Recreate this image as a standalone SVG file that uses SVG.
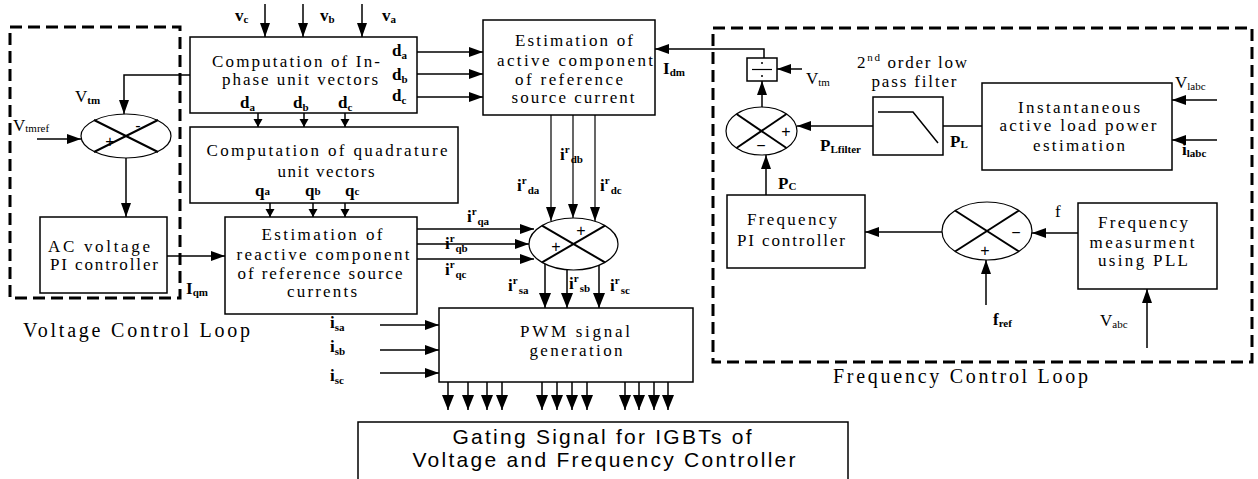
<svg xmlns="http://www.w3.org/2000/svg" width="1258" height="479" viewBox="0 0 1258 479">
<style>
.box{fill:#fff;stroke:#000;stroke-width:1.5}
.t{font-family:'Liberation Serif','Times New Roman',serif;font-size:17px;text-anchor:middle;fill:#000}
.lb{font-family:'Liberation Serif','Times New Roman',serif;font-size:17px;fill:#000}
.bd{font-weight:bold}
.sub{font-size:11px}
.w{stroke:#000;stroke-width:1.5;fill:none}
.thin{stroke:#000;stroke-width:1.2;fill:none}
.dash{fill:none;stroke:#000;stroke-width:3;stroke-dasharray:12 6}
.sum{fill:#fff;stroke:#000;stroke-width:1.2}
.x{stroke:#000;stroke-width:2}
.sg{font-family:'Liberation Sans',Arial,sans-serif;font-size:16px;text-anchor:middle}
.cap{font-family:'Liberation Serif','Times New Roman',serif;font-size:20px;fill:#000}
.gs{font-family:'Liberation Sans',Arial,sans-serif;font-size:21px;text-anchor:middle}
</style>
<defs>
<marker id="a" markerUnits="userSpaceOnUse" markerWidth="14" markerHeight="10" refX="14" refY="5" orient="auto"><path d="M0,0 L14,5 L0,10 z" fill="#000"/></marker>
<marker id="s" markerUnits="userSpaceOnUse" markerWidth="8" markerHeight="10" refX="8" refY="5" orient="auto"><path d="M0,0.5 L8,5 L0,9.5 z" fill="#000"/></marker>
<marker id="b" markerUnits="userSpaceOnUse" markerWidth="15" markerHeight="12" refX="15" refY="6" orient="auto"><path d="M0,0 L15,6 L0,12 z" fill="#000"/></marker>
</defs>
<rect width="1258" height="479" fill="#fff"/>

<g id="voltage-loop">
<rect class="dash" x="10" y="27" width="170" height="271"/>
<text class="cap" x="23" y="337" textLength="227" lengthAdjust="spacing">Voltage Control Loop</text>
</g>
<g id="frequency-loop">
<rect class="dash" x="713" y="28" width="539" height="334"/>
<text class="cap" x="833" y="383" textLength="255" lengthAdjust="spacing">Frequency Control Loop</text>
</g>

<g id="connectors">
<polyline class="w" points="190,75 124,75 124,114" marker-end="url(#a)"/>
<line class="w" x1="37" y1="139" x2="81" y2="139" marker-end="url(#a)"/>
<line class="w" x1="126" y1="158" x2="126" y2="217" marker-end="url(#a)"/>
<line class="w" x1="167" y1="256" x2="225" y2="256" marker-end="url(#a)"/>
<line class="w" x1="265" y1="4" x2="265" y2="37" marker-end="url(#a)"/>
<line class="w" x1="303" y1="4" x2="303" y2="37" marker-end="url(#a)"/>
<line class="w" x1="362" y1="4" x2="362" y2="37" marker-end="url(#a)"/>
<line class="w" x1="417" y1="52" x2="483" y2="52" marker-end="url(#a)"/>
<line class="w" x1="417" y1="74" x2="483" y2="74" marker-end="url(#a)"/>
<line class="w" x1="417" y1="97" x2="483" y2="97" marker-end="url(#a)"/>
<line class="w" x1="258" y1="113" x2="258" y2="127" marker-end="url(#s)"/>
<line class="w" x1="304" y1="113" x2="304" y2="127" marker-end="url(#s)"/>
<line class="w" x1="345" y1="113" x2="345" y2="127" marker-end="url(#s)"/>
<line class="w" x1="270" y1="203" x2="270" y2="217" marker-end="url(#s)"/>
<line class="w" x1="313" y1="203" x2="313" y2="217" marker-end="url(#s)"/>
<line class="w" x1="345" y1="203" x2="345" y2="217" marker-end="url(#s)"/>
<line class="w" x1="417" y1="229" x2="534" y2="229" marker-end="url(#a)"/>
<line class="w" x1="417" y1="244" x2="529" y2="244" marker-end="url(#a)"/>
<line class="w" x1="417" y1="259" x2="534" y2="259" marker-end="url(#a)"/>
<line class="thin" x1="551" y1="115" x2="551" y2="221" marker-end="url(#a)"/>
<line class="thin" x1="573" y1="115" x2="573" y2="218" marker-end="url(#a)"/>
<line class="thin" x1="595" y1="115" x2="595" y2="221" marker-end="url(#a)"/>
<line class="w" x1="545" y1="264" x2="545" y2="308" marker-end="url(#b)"/>
<line class="w" x1="567" y1="269" x2="567" y2="308" marker-end="url(#b)"/>
<line class="w" x1="599" y1="265" x2="599" y2="308" marker-end="url(#b)"/>
<line class="w" x1="380" y1="325" x2="439" y2="325" marker-end="url(#a)"/>
<line class="w" x1="380" y1="350" x2="439" y2="350" marker-end="url(#a)"/>
<line class="w" x1="380" y1="373" x2="439" y2="373" marker-end="url(#a)"/>
<line class="w" x1="448" y1="382" x2="448" y2="410" marker-end="url(#b)"/>
<line class="w" x1="468" y1="382" x2="468" y2="410" marker-end="url(#b)"/>
<line class="w" x1="487" y1="382" x2="487" y2="410" marker-end="url(#b)"/>
<line class="w" x1="502" y1="382" x2="502" y2="410" marker-end="url(#b)"/>
<line class="w" x1="542" y1="382" x2="542" y2="410" marker-end="url(#b)"/>
<line class="w" x1="557" y1="382" x2="557" y2="410" marker-end="url(#b)"/>
<line class="w" x1="572" y1="382" x2="572" y2="410" marker-end="url(#b)"/>
<line class="w" x1="587" y1="382" x2="587" y2="410" marker-end="url(#b)"/>
<line class="w" x1="625" y1="382" x2="625" y2="410" marker-end="url(#b)"/>
<line class="w" x1="639" y1="382" x2="639" y2="410" marker-end="url(#b)"/>
<line class="w" x1="654" y1="382" x2="654" y2="410" marker-end="url(#b)"/>
<line class="w" x1="668" y1="382" x2="668" y2="410" marker-end="url(#b)"/>
<polyline class="w" points="764,58 764,49 655,49" marker-end="url(#a)"/>
<line class="w" x1="802" y1="69" x2="777" y2="69" marker-end="url(#a)"/>
<line class="w" x1="762" y1="107" x2="762" y2="81" marker-end="url(#a)"/>
<line class="w" x1="873" y1="126" x2="797" y2="126" marker-end="url(#a)"/>
<line class="w" x1="982" y1="126" x2="943" y2="126"/>
<line class="w" x1="1217" y1="100" x2="1172" y2="100" marker-end="url(#a)"/>
<line class="w" x1="1217" y1="140" x2="1172" y2="140" marker-end="url(#a)"/>
<line class="w" x1="766" y1="195" x2="766" y2="155" marker-end="url(#a)"/>
<line class="w" x1="942" y1="232" x2="865" y2="232" marker-end="url(#a)"/>
<line class="w" x1="1078" y1="233" x2="1032" y2="233" marker-end="url(#a)"/>
<line class="w" x1="986" y1="305" x2="986" y2="260" marker-end="url(#a)"/>
<line class="w" x1="1147" y1="348" x2="1147" y2="289" marker-end="url(#a)"/>
</g>

<g id="sum-vtm">
<ellipse class="sum" cx="126" cy="136" rx="45" ry="22"/>
<line class="x" x1="94" y1="120" x2="158" y2="152"/>
<line class="x" x1="94" y1="152" x2="158" y2="120"/>
<text class="sg" x="138" y="131">-</text>
<text class="sg" x="110" y="147">+</text>
</g>

<g id="ac-pi">
<rect class="box" x="40" y="217" width="127" height="76"/>
<text class="t" x="99" y="252" textLength="102" lengthAdjust="spacing">AC voltage</text>
<text class="t" x="104" y="270" textLength="108" lengthAdjust="spacing">PI controller</text>
</g>

<g id="inphase">
<rect class="box" x="190" y="37" width="227" height="76"/>
<text class="t" x="296" y="67" textLength="168" lengthAdjust="spacing">Computation of In-</text>
<text class="t" x="300" y="85" textLength="156" lengthAdjust="spacing">phase unit vectors</text>
</g>

<g id="quadrature">
<rect class="box" x="190" y="127" width="268" height="76"/>
<text class="t" x="327" y="156" textLength="241" lengthAdjust="spacing">Computation of quadrature</text>
<text class="t" x="326" y="177" textLength="97" lengthAdjust="spacing">unit vectors</text>
</g>

<g id="reactive">
<rect class="box" x="225" y="217" width="192" height="97"/>
<text class="t" x="322" y="240" textLength="121" lengthAdjust="spacing">Estimation of</text>
<text class="t" x="323" y="260" textLength="173" lengthAdjust="spacing">reactive component</text>
<text class="t" x="320" y="279" textLength="165" lengthAdjust="spacing">of reference source</text>
<text class="t" x="322" y="297" textLength="70" lengthAdjust="spacing">currents</text>
</g>

<g id="active">
<rect class="box" x="483" y="20" width="172" height="95"/>
<text class="t" x="574" y="46" textLength="118" lengthAdjust="spacing">Estimation of</text>
<text class="t" x="575" y="66" textLength="156" lengthAdjust="spacing">active component</text>
<text class="t" x="569" y="85" textLength="108" lengthAdjust="spacing">of reference</text>
<text class="t" x="573" y="103" textLength="123" lengthAdjust="spacing">source current</text>
</g>

<g id="sum-ref">
<ellipse class="sum" cx="573.5" cy="244" rx="44.5" ry="26"/>
<line class="x" x1="542" y1="225.6" x2="605" y2="262.4"/>
<line class="x" x1="542" y1="262.4" x2="605" y2="225.6"/>
<text class="sg" x="581" y="236">+</text>
<text class="sg" x="556" y="252">+</text>
</g>

<g id="pwm">
<rect class="box" x="439" y="308" width="254" height="74"/>
<text class="t" x="575" y="337" textLength="110" lengthAdjust="spacing">PWM signal</text>
<text class="t" x="576" y="356" textLength="93" lengthAdjust="spacing">generation</text>
</g>

<g id="gating">
<rect class="box" x="358" y="422" width="490" height="70"/>
<text class="gs" x="602" y="444" textLength="299" lengthAdjust="spacing">Gating Signal for IGBTs of</text>
<text class="gs" x="604" y="467" textLength="383" lengthAdjust="spacing">Voltage and Frequency Controller</text>
</g>

<g id="divider">
<rect class="box" x="747" y="58" width="30" height="23"/>
<line class="thin" x1="752" y1="69.5" x2="772" y2="69.5"/>
<circle cx="762" cy="63" r="1" fill="#000"/>
<circle cx="762" cy="76" r="1" fill="#000"/>
</g>

<g id="sum-p">
<ellipse class="sum" cx="761.5" cy="131" rx="35.5" ry="24"/>
<line class="x" x1="736.5" y1="114" x2="786.5" y2="148"/>
<line class="x" x1="736.5" y1="148" x2="786.5" y2="114"/>
<text class="sg" x="786" y="137">+</text>
<text class="sg" x="761" y="151">−</text>
</g>

<g id="lpf">
<rect class="box" x="873" y="97" width="70" height="58"/>
<polyline class="w" points="878,112 913,112 938,143"/>
<text class="lb" x="912" y="68" text-anchor="middle" textLength="110" lengthAdjust="spacing">2<tspan class="sub" dy="-7">nd</tspan><tspan dy="7"> order low</tspan></text>
<text class="t" x="914" y="87" textLength="85" lengthAdjust="spacing">pass filter</text>
</g>

<g id="inst-power">
<rect class="box" x="982" y="83" width="190" height="87"/>
<text class="t" x="1079" y="113" textLength="122" lengthAdjust="spacing">Instantaneous</text>
<text class="t" x="1078" y="131" textLength="157" lengthAdjust="spacing">active load power</text>
<text class="t" x="1079" y="151" textLength="92" lengthAdjust="spacing">estimation</text>
</g>

<g id="freq-pi">
<rect class="box" x="727" y="195" width="138" height="73"/>
<text class="t" x="792" y="225" textLength="90" lengthAdjust="spacing">Frequency</text>
<text class="t" x="791" y="246" textLength="108" lengthAdjust="spacing">PI controller</text>
</g>

<g id="sum-f">
<ellipse class="sum" cx="987" cy="231" rx="45" ry="29"/>
<line class="x" x1="955" y1="210.5" x2="1019" y2="251.5"/>
<line class="x" x1="955" y1="251.5" x2="1019" y2="210.5"/>
<text class="sg" x="1016" y="238">−</text>
<text class="sg" x="985" y="256">+</text>
</g>

<g id="pll">
<rect class="box" x="1078" y="203" width="139" height="86"/>
<text class="t" x="1143" y="228" textLength="90" lengthAdjust="spacing">Frequency</text>
<text class="t" x="1142" y="248" textLength="105" lengthAdjust="spacing">measurment</text>
<text class="t" x="1143" y="266" textLength="90" lengthAdjust="spacing">using PLL</text>
</g>

<g id="labels">
<text class="lb bd" x="235" y="21">v<tspan class="sub" dy="2">c</tspan></text>
<text class="lb bd" x="320" y="21">v<tspan class="sub" dy="2">b</tspan></text>
<text class="lb bd" x="382" y="21">v<tspan class="sub" dy="2">a</tspan></text>
<text class="lb" x="75" y="102">V<tspan class="sub bd" dy="2" font-size="13">tm</tspan></text>
<text class="lb" x="13" y="131">V<tspan class="sub" dy="1">tmref</tspan></text>
<text class="lb bd" x="392" y="56">d<tspan class="sub" dy="3">a</tspan></text>
<text class="lb bd" x="392" y="80">d<tspan class="sub" dy="3">b</tspan></text>
<text class="lb bd" x="392" y="101">d<tspan class="sub" dy="3">c</tspan></text>
<text class="lb bd" x="240" y="108">d<tspan class="sub" dy="3">a</tspan></text>
<text class="lb bd" x="293" y="108">d<tspan class="sub" dy="3">b</tspan></text>
<text class="lb bd" x="338" y="108">d<tspan class="sub" dy="3">c</tspan></text>
<text class="lb bd" x="255" y="196">q<tspan class="sub" dy="-1">a</tspan></text>
<text class="lb bd" x="305" y="196">q<tspan class="sub" dy="-1">b</tspan></text>
<text class="lb bd" x="345" y="196">q<tspan class="sub" dy="-1">c</tspan></text>
<text class="lb bd" x="186" y="294">I<tspan class="sub" dy="2">qm</tspan></text>
<text class="lb bd" x="663" y="74">I<tspan class="sub" dy="2">dm</tspan></text>
<text class="lb bd" x="517" y="191">i<tspan class="sub" dy="-7">r</tspan><tspan class="sub" dx="1" dy="10">da</tspan></text>
<text class="lb bd" x="560" y="160">i<tspan class="sub" dy="-7">r</tspan><tspan class="sub" dx="1" dy="10">db</tspan></text>
<text class="lb bd" x="600" y="191">i<tspan class="sub" dy="-7">r</tspan><tspan class="sub" dx="1" dy="10">dc</tspan></text>
<text class="lb bd" x="467" y="222">i<tspan class="sub" dy="-7">r</tspan><tspan class="sub" dx="1" dy="10">qa</tspan></text>
<text class="lb bd" x="445" y="249">i<tspan class="sub" dy="-7">r</tspan><tspan class="sub" dx="1" dy="10">qb</tspan></text>
<text class="lb bd" x="445" y="275">i<tspan class="sub" dy="-7">r</tspan><tspan class="sub" dx="1" dy="10">qc</tspan></text>
<text class="lb bd" x="508" y="291">i<tspan class="sub" dy="-7">r</tspan><tspan class="sub" dx="1" dy="10">sa</tspan></text>
<text class="lb bd" x="569" y="289">i<tspan class="sub" dy="-7">r</tspan><tspan class="sub" dx="1" dy="10">sb</tspan></text>
<text class="lb bd" x="610" y="291">i<tspan class="sub" dy="-7">r</tspan><tspan class="sub" dx="1" dy="10">sc</tspan></text>
<text class="lb bd" x="330" y="328">i<tspan class="sub" dy="3">sa</tspan></text>
<text class="lb bd" x="330" y="352">i<tspan class="sub" dy="3">sb</tspan></text>
<text class="lb bd" x="330" y="381">i<tspan class="sub" dy="3">sc</tspan></text>
<text class="lb" x="806" y="84">V<tspan class="sub" dy="2">tm</tspan></text>
<text class="lb bd" x="820" y="151">P<tspan class="sub" dy="2">Lfilter</tspan></text>
<text class="lb bd" x="950" y="147">P<tspan class="sub" dy="1" font-size="13">L</tspan></text>
<text class="lb" x="1175" y="88">V<tspan class="sub" dy="2">labc</tspan></text>
<text class="lb bd" x="1182" y="155">i<tspan class="sub" dy="2">labc</tspan></text>
<text class="lb bd" x="778" y="189">P<tspan class="sub" dy="1" font-size="13">C</tspan></text>
<text class="lb" x="1055" y="217">f</text>
<text class="lb bd" x="993" y="325">f<tspan class="sub" dy="2">ref</tspan></text>
<text class="lb" x="1100" y="326">V<tspan class="sub" dy="2">abc</tspan></text>
</g>
</svg>
